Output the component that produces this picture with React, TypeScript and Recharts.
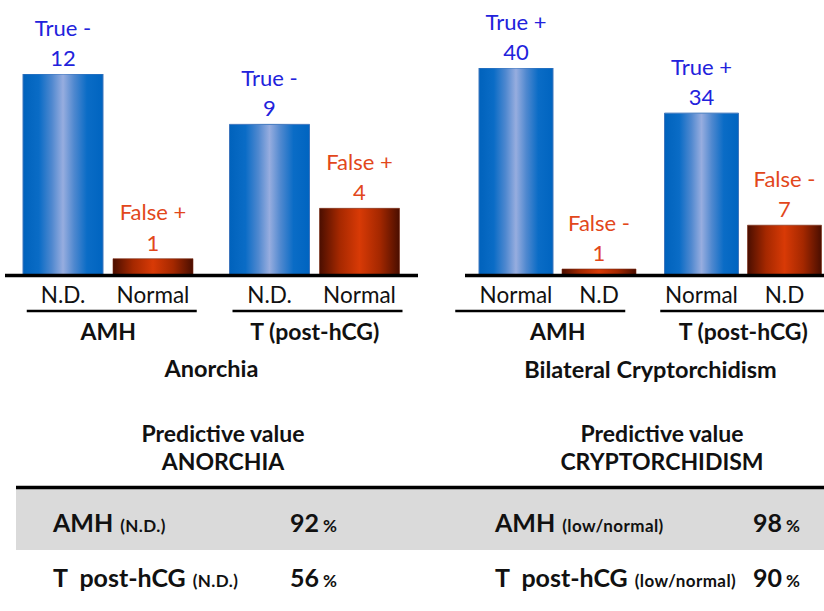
import React from 'react';
import { BarChart, Bar, XAxis, YAxis, LabelList, Label } from 'recharts';

const FONT = 'Lato, "Open Sans", sans-serif';

// ---------- data ----------
const groups = ['AMH', 'T (post-hCG)'];

// Anorchia panel
const anorchiaTrueCounts = [12, 9];
const anorchiaFalseCounts = [1, 4];
const anorchiaTrueTags = ['True -', 'True -'];
const anorchiaFalseTags = ['False +', 'False +'];
const anorchiaTrueTicks = ['N.D.', 'N.D.'];
const anorchiaFalseTicks = ['Normal', 'Normal'];

// Bilateral cryptorchidism panel (drawn bar heights, labels as printed)
const cryptoTrueCounts = [40, 34];
const cryptoFalseCounts = [1, 7];
const cryptoTrueBarHeights = [40, 31.3];
const cryptoFalseBarHeights = [1.25, 9.7];
const cryptoTrueTags = ['True +', 'True +'];
const cryptoFalseTags = ['False -', 'False -'];
const cryptoTrueTicks = ['Normal', 'Normal'];
const cryptoFalseTicks = ['N.D', 'N.D'];

// Table
const headerLine1 = ['Predictive value', 'Predictive value'];
const headerLine2 = ['ANORCHIA', 'CRYPTORCHIDISM'];
const anorchiaRowNames = ['AMH', 'T  post-hCG'];
const anorchiaRowQualifiers = ['(N.D.)', '(N.D.)'];
const anorchiaPredictive = [92, 56];
const cryptoRowNames = ['AMH', 'T  post-hCG'];
const cryptoRowQualifiers = ['(low/normal)', '(low/normal)'];
const cryptoPredictive = [98, 90];

const BLUE_TEXT = '#2222dc';
const RED_TEXT = '#e2471b';

const makeTopLabel = (tags: string[], counts: number[], color: string) => (props: any) => {
  const vb = props.viewBox || props;
  const cx = vb.x + vb.width / 2;
  const top = Math.min(vb.y, vb.y + vb.height);
  const i = props.index;
  return (
    <g>
      <text x={cx} y={top - 47} textAnchor="middle" dominantBaseline="central" fill={color} fontSize={22} fontFamily={FONT}>
        {tags[i]}
      </text>
      <text x={cx} y={top - 16.5} textAnchor="middle" dominantBaseline="central" fill={color} fontSize={22} fontFamily={FONT}>
        {counts[i]}
      </text>
    </g>
  );
};

const makeBottomLabel = (ticks: string[]) => (props: any) => {
  const vb = props.viewBox || props;
  const cx = vb.x + vb.width / 2;
  const bottom = Math.max(vb.y, vb.y + vb.height);
  return (
    <text x={cx} y={bottom + 27} textAnchor="middle" fill="#111" fontSize={22.5} fontFamily={FONT}>
      {ticks[props.index]}
    </text>
  );
};

const makeGroupTick = (shifts: number[]) => (props: any) => {
  const { x, y, payload, index } = props;
  const s = shifts[index] || 0;
  return (
    <g>
      <line x1={x - 85 + s} x2={x + 85 + s} y1={y + 35.5} y2={y + 35.5} stroke="#000" strokeWidth={2.5} />
      <text x={x} y={y + 64.5} textAnchor="middle" fill="#111" fontSize={23} fontWeight="bold" fontFamily={FONT}>
        {payload.value}
      </text>
    </g>
  );
};

type PanelProps = {
  id: string;
  left: number;
  marginTop: number;
  marginLeft: number;
  marginRight: number;
  barSize: number;
  barGap: number;
  domainMax: number;
  trueValues: number[];
  falseValues: number[];
  trueCounts: number[];
  falseCounts: number[];
  trueTags: string[];
  falseTags: string[];
  trueTicks: string[];
  falseTicks: string[];
  title: string;
  titleDy: number;
  underlineShifts: number[];
};

const Panel = (p: PanelProps) => {
  const data = groups.map((g, i) => ({ group: g, t: p.trueValues[i], f: p.falseValues[i] }));
  return (
    <div style={{ position: 'absolute', left: p.left, top: 0 }}>
      <BarChart
        width={420}
        height={390}
        data={data}
        margin={{ top: p.marginTop, right: p.marginRight, left: p.marginLeft, bottom: 0 }}
        barSize={p.barSize}
        barGap={p.barGap}
      >
        <defs>
          <linearGradient id={`${p.id}-blue`} x1="0" y1="0" x2="1" y2="0">
            <stop offset="0" stopColor="#0062bc" />
            <stop offset="0.2" stopColor="#0a6cc6" />
            <stop offset="0.36" stopColor="#4f88cf" />
            <stop offset="0.5" stopColor="#97addf" />
            <stop offset="0.64" stopColor="#4f88cf" />
            <stop offset="0.8" stopColor="#0a6cc6" />
            <stop offset="1" stopColor="#0064c0" />
          </linearGradient>
          <linearGradient id={`${p.id}-red`} x1="0" y1="0" x2="1" y2="0">
            <stop offset="0" stopColor="#4a0e00" />
            <stop offset="0.25" stopColor="#a52800" />
            <stop offset="0.5" stopColor="#d83a06" />
            <stop offset="0.75" stopColor="#a52800" />
            <stop offset="1" stopColor="#4a0e00" />
          </linearGradient>
        </defs>
        <YAxis hide domain={[0, p.domainMax]} allowDataOverflow />
        <XAxis
          dataKey="group"
          height={114.5}
          interval={0}
          tickLine={false}
          tickSize={0}
          tickMargin={0}
          axisLine={{ stroke: '#000', strokeWidth: 3.5 }}
          tick={makeGroupTick(p.underlineShifts)}
        >
          <Label
            content={(lp: any) => {
              const vb = lp.viewBox;
              return (
                <text
                  x={vb.x + vb.width / 2}
                  y={vb.y + p.titleDy}
                  textAnchor="middle"
                  fill="#111"
                  fontSize={23.5}
                  fontWeight="bold"
                  fontFamily={FONT}
                >
                  {p.title}
                </text>
              );
            }}
          />
        </XAxis>
        <Bar dataKey="t" fill={`url(#${p.id}-blue)`} stroke="#3f76bd" strokeWidth={1} isAnimationActive={false}>
          <LabelList dataKey="t" content={makeTopLabel(p.trueTags, p.trueCounts, BLUE_TEXT)} />
          <LabelList dataKey="t" content={makeBottomLabel(p.trueTicks)} />
        </Bar>
        <Bar dataKey="f" fill={`url(#${p.id}-red)`} stroke="#7a2a12" strokeWidth={0.6} isAnimationActive={false}>
          <LabelList dataKey="f" content={makeTopLabel(p.falseTags, p.falseCounts, RED_TEXT)} />
          <LabelList dataKey="f" content={makeBottomLabel(p.falseTicks)} />
        </Bar>
      </BarChart>
    </div>
  );
};

const TableSection = () => {
  const cols = [
    { cx: 223, nameX: 53, pctX: 337, names: anorchiaRowNames, quals: anorchiaRowQualifiers, vals: anorchiaPredictive },
    { cx: 662, nameX: 495, pctX: 800, names: cryptoRowNames, quals: cryptoRowQualifiers, vals: cryptoPredictive },
  ];
  const rowBaselines = [131.5, 187];
  return (
    <svg width={824} height={211} style={{ position: 'absolute', left: 0, top: 400 }} fontFamily={FONT}>
      <rect x={16} y={89} width={808} height={61} fill="#dadada" />
      <line x1={16} x2={824} y1={87.5} y2={87.5} stroke="#000" strokeWidth={3.5} />
      {cols.map((c, ci) => (
        <g key={ci}>
          <text x={c.cx} y={42} textAnchor="middle" fontSize={23} fontWeight="bold" fill="#111">
            {headerLine1[ci]}
          </text>
          <text x={c.cx} y={70} textAnchor="middle" fontSize={23} fontWeight="bold" fill="#111">
            {headerLine2[ci]}
          </text>
          {c.names.map((n, ri) => (
            <g key={ri}>
              <text x={c.nameX} y={rowBaselines[ri]} fontSize={25} fontWeight="bold" fill="#111" style={{ whiteSpace: 'pre' }}>
                {n}
                <tspan dx={7} fontSize={17} letterSpacing={0.4}>
                  {c.quals[ri]}
                </tspan>
              </text>
              <text x={c.pctX} y={rowBaselines[ri]} textAnchor="end" fontSize={25} fontWeight="bold" fill="#111">
                {c.vals[ri]}
                <tspan dx={4} fontSize={17}>%</tspan>
              </text>
            </g>
          ))}
        </g>
      ))}
    </svg>
  );
};

export default function App() {
  return (
    <div
      style={{
        position: 'absolute',
        left: 0,
        top: 0,
        width: 824,
        height: 611,
        overflow: 'hidden',
        background: '#fff',
        fontFamily: FONT,
      }}
    >
      <Panel
        id="anorchia"
        left={0}
        marginTop={74}
        marginLeft={5}
        marginRight={2}
        barSize={80}
        barGap={10}
        domainMax={12}
        trueValues={anorchiaTrueCounts}
        falseValues={anorchiaFalseCounts}
        trueCounts={anorchiaTrueCounts}
        falseCounts={anorchiaFalseCounts}
        trueTags={anorchiaTrueTags}
        falseTags={anorchiaFalseTags}
        trueTicks={anorchiaTrueTicks}
        falseTicks={anorchiaFalseTicks}
        title="Anorchia"
        titleDy={101.5}
        underlineShifts={[3.5, 2.75]}
      />
      <Panel
        id="crypto"
        left={420}
        marginTop={68}
        marginLeft={45}
        marginRight={4}
        barSize={74}
        barGap={9}
        domainMax={40}
        trueValues={cryptoTrueBarHeights}
        falseValues={cryptoFalseBarHeights}
        trueCounts={cryptoTrueCounts}
        falseCounts={cryptoFalseCounts}
        trueTags={cryptoTrueTags}
        falseTags={cryptoFalseTags}
        trueTicks={cryptoTrueTicks}
        falseTicks={cryptoFalseTicks}
        title="Bilateral Cryptorchidism"
        titleDy={102.5}
        underlineShifts={[-17.5, 2]}
      />
      <TableSection />
    </div>
  );
}
